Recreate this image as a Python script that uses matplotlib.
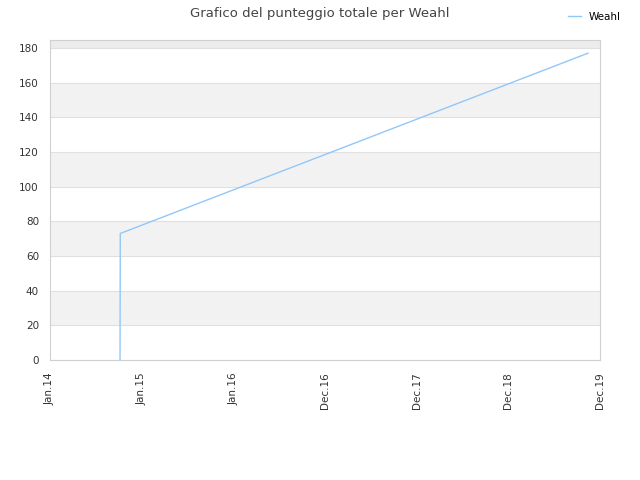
import pandas as pd
import matplotlib
matplotlib.use('Agg')
import matplotlib.pyplot as plt
import matplotlib.dates as mdates

# dati
dates = pd.to_datetime(['2014-10-03', '2014-10-04', '2019-10-15'])
scores = [0, 73, 177]
tick_labels = ['Jan.14', 'Jan.15', 'Jan.16', 'Dec.16', 'Dec.17', 'Dec.18', 'Dec.19']
x_start = pd.Timestamp('2014-01-01')
x_end = pd.Timestamp('2019-12-01')

fig = plt.figure(figsize=(6.4, 4.8), dpi=100)
ax = fig.add_axes([50 / 640, 120 / 480, 550 / 640, 320 / 480])

ymax = 184.6
for lo in range(0, 200, 20):
    if (lo // 20) % 2 == 1:
        ax.axhspan(lo, min(lo + 20, ymax), color='#f2f2f2', zorder=0, lw=0)
ax.axhspan(180, ymax, color='#ececec', zorder=0, lw=0)
for y in range(0, 200, 20):
    ax.axhline(y, color='#e0e0e0', lw=0.8, zorder=1)

ax.plot(dates, scores, color='#90c8f8', lw=1.0, label='Weahl', zorder=3)

ax.set_xlim(x_start, x_end)
ax.set_ylim(0, ymax)
ticks = pd.date_range(x_start, x_end, periods=len(tick_labels))
ax.set_xticks(mdates.date2num(ticks))
ax.set_xticklabels(tick_labels, rotation=90)
ax.set_yticks(range(0, 200, 20))
ax.tick_params(axis='both', labelsize=7.5, colors='#333333', length=0)
ax.tick_params(axis='x', pad=9)
ax.tick_params(axis='y', pad=8)
for s in ax.spines.values():
    s.set_color('#d0d0d0')

fig.suptitle('Grafico del punteggio totale per Weahl', x=0.5, y=0.985,
             fontsize=9.5, color='#444444')
fig.legend(loc='upper right', bbox_to_anchor=(0.985, 0.995), frameon=False,
           fontsize=7.5, handlelength=1.2)

fig.savefig('out.png', dpi=100)
